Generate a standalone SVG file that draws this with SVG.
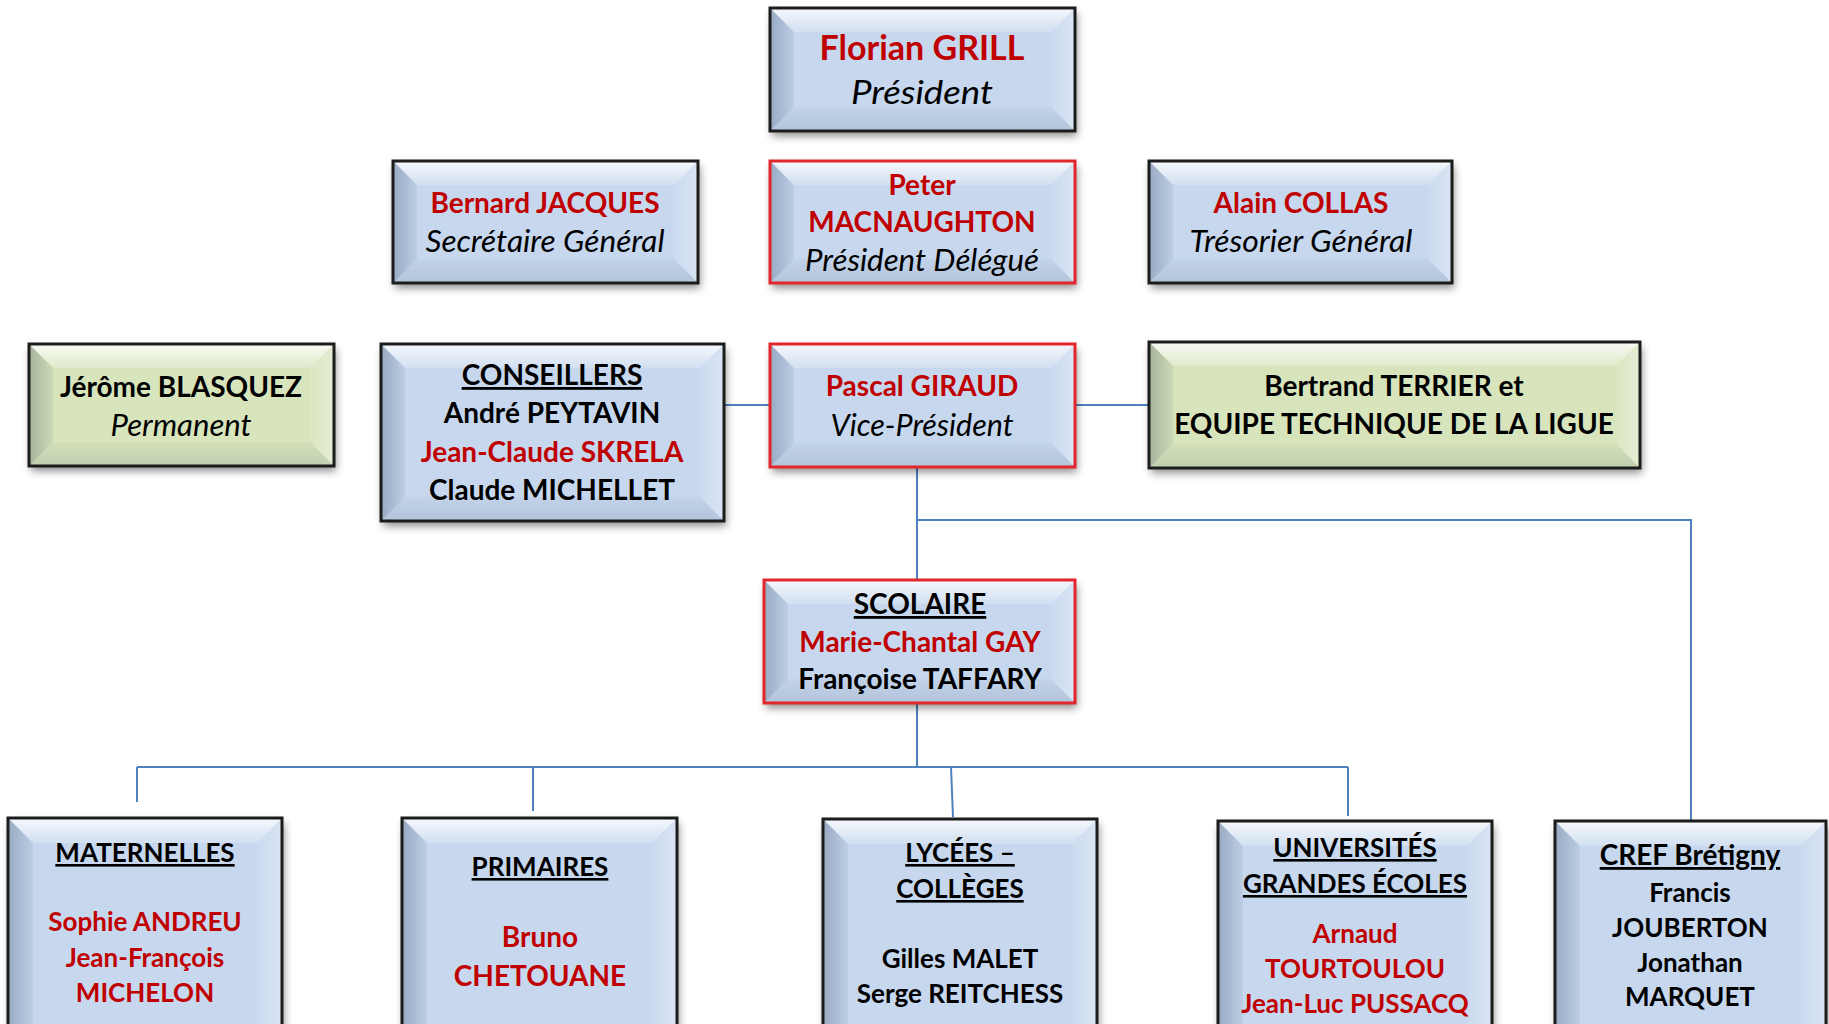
<svg xmlns="http://www.w3.org/2000/svg" width="1829" height="1024" viewBox="0 0 1829 1024">
<defs>
<linearGradient id="gTop" x1="0" y1="0" x2="0" y2="1"><stop offset="0" stop-color="#fff" stop-opacity="0.85"/><stop offset="1" stop-color="#fff" stop-opacity="0.2"/></linearGradient>
<linearGradient id="gLeft" x1="0" y1="0" x2="1" y2="0"><stop offset="0" stop-color="#23364f" stop-opacity="0.28"/><stop offset="1" stop-color="#23364f" stop-opacity="0.06"/></linearGradient>
<linearGradient id="gRight" x1="1" y1="0" x2="0" y2="0"><stop offset="0" stop-color="#fff" stop-opacity="0.35"/><stop offset="1" stop-color="#fff" stop-opacity="0.08"/></linearGradient>
<linearGradient id="gBottom" x1="0" y1="1" x2="0" y2="0"><stop offset="0" stop-color="#23364f" stop-opacity="0.12"/><stop offset="1" stop-color="#23364f" stop-opacity="0.03"/></linearGradient>
<filter id="shadow" x="-10%" y="-10%" width="130%" height="140%"><feDropShadow dx="2" dy="5" stdDeviation="4" flood-color="#000" flood-opacity="0.45"/></filter>
</defs>
<style>
.blue{fill:#c6d7ee;filter:url(#shadow)}
.green{fill:#d7e4bc;filter:url(#shadow)}
.bt{fill:url(#gTop)}
.bl{fill:url(#gLeft)}
.br{fill:url(#gRight)}
.bb{fill:url(#gBottom)}
.kb{fill:none;stroke:#1c1c1c;stroke-width:3}
.kr{fill:none;stroke:#e3262c;stroke-width:3}
text{font-family:Lato,"Open Sans","DejaVu Sans",sans-serif;text-anchor:middle}
.n{font-weight:bold;font-size:28px}
.n1{font-weight:bold;font-size:34px}
.r{font-style:italic;font-size:30px;fill:#000}
.r1{font-style:italic;font-size:32px;fill:#000}
.s{font-weight:bold;font-size:26px}
.h{font-weight:bold;font-size:28px}
.red{fill:#c00000}
.blk{fill:#000}
.u{text-decoration:underline}
#connectors path{fill:none;stroke:#4f81bd;stroke-width:2}
</style>
<rect width="1829" height="1024" fill="#fff"/>
<g id="connectors">
<path d="M724 405H770"/>
<path d="M1075 405H1149"/>
<path d="M917 467V580"/>
<path d="M917 520H1691V821"/>
<path d="M917 703V767"/>
<path d="M137 767H1348"/>
<path d="M137 767V802"/>
<path d="M533 767V811"/>
<path d="M951 767L953 817"/>
<path d="M1348 767V816"/>
</g>
<g id="florian">
<rect class="blue" x="770" y="8" width="305" height="123"/>
<polygon class="bt" points="770,8 1075,8 1051,32 794,32"/>
<polygon class="bl" points="770,8 794,32 794,107 770,131"/>
<polygon class="br" points="1075,8 1075,131 1051,107 1051,32"/>
<polygon class="bb" points="770,131 1075,131 1051,107 794,107"/>
<rect class="kb" x="770" y="8" width="305" height="123"/>
<text class="n1 red" x="922" y="60">Florian GRILL</text>
<text class="r1" x="922" y="104" textLength="142" lengthAdjust="spacingAndGlyphs">Président</text>
</g>
<g id="bernard">
<rect class="blue" x="393" y="161" width="305" height="122"/>
<polygon class="bt" points="393,161 698,161 674,185 417,185"/>
<polygon class="bl" points="393,161 417,185 417,259 393,283"/>
<polygon class="br" points="698,161 698,283 674,259 674,185"/>
<polygon class="bb" points="393,283 698,283 674,259 417,259"/>
<rect class="kb" x="393" y="161" width="305" height="122"/>
<text class="n red" x="545" y="213">Bernard JACQUES</text>
<text class="r" x="545" y="252" textLength="239" lengthAdjust="spacingAndGlyphs">Secrétaire Général</text>
</g>
<g id="peter">
<rect class="blue" x="770" y="161" width="305" height="122"/>
<polygon class="bt" points="770,161 1075,161 1051,185 794,185"/>
<polygon class="bl" points="770,161 794,185 794,259 770,283"/>
<polygon class="br" points="1075,161 1075,283 1051,259 1051,185"/>
<polygon class="bb" points="770,283 1075,283 1051,259 794,259"/>
<rect class="kr" x="770" y="161" width="305" height="122"/>
<text class="n red" x="922" y="195">Peter</text>
<text class="n red" x="922" y="232">MACNAUGHTON</text>
<text class="r" x="922" y="271" textLength="234" lengthAdjust="spacingAndGlyphs">Président Délégué</text>
</g>
<g id="alain">
<rect class="blue" x="1149" y="161" width="303" height="122"/>
<polygon class="bt" points="1149,161 1452,161 1428,185 1173,185"/>
<polygon class="bl" points="1149,161 1173,185 1173,259 1149,283"/>
<polygon class="br" points="1452,161 1452,283 1428,259 1428,185"/>
<polygon class="bb" points="1149,283 1452,283 1428,259 1173,259"/>
<rect class="kb" x="1149" y="161" width="303" height="122"/>
<text class="n red" x="1301" y="213">Alain COLLAS</text>
<text class="r" x="1301" y="252" textLength="223" lengthAdjust="spacingAndGlyphs">Trésorier Général</text>
</g>
<g id="jerome">
<rect class="green" x="29" y="344" width="305" height="122"/>
<polygon class="bt" points="29,344 334,344 310,368 53,368"/>
<polygon class="bl" points="29,344 53,368 53,442 29,466"/>
<polygon class="br" points="334,344 334,466 310,442 310,368"/>
<polygon class="bb" points="29,466 334,466 310,442 53,442"/>
<rect class="kb" x="29" y="344" width="305" height="122"/>
<text class="n blk" x="181" y="397">Jérôme BLASQUEZ</text>
<text class="r" x="181" y="436" textLength="141" lengthAdjust="spacingAndGlyphs">Permanent</text>
</g>
<g id="conseillers">
<rect class="blue" x="381" y="344" width="343" height="177"/>
<polygon class="bt" points="381,344 724,344 700,368 405,368"/>
<polygon class="bl" points="381,344 405,368 405,497 381,521"/>
<polygon class="br" points="724,344 724,521 700,497 700,368"/>
<polygon class="bb" points="381,521 724,521 700,497 405,497"/>
<rect class="kb" x="381" y="344" width="343" height="177"/>
<text class="n blk u" x="552" y="385">CONSEILLERS</text>
<text class="n blk" x="552" y="423">André PEYTAVIN</text>
<text class="n red" x="552" y="462">Jean-Claude SKRELA</text>
<text class="n blk" x="552" y="500">Claude MICHELLET</text>
</g>
<g id="pascal">
<rect class="blue" x="770" y="344" width="305" height="123"/>
<polygon class="bt" points="770,344 1075,344 1051,368 794,368"/>
<polygon class="bl" points="770,344 794,368 794,443 770,467"/>
<polygon class="br" points="1075,344 1075,467 1051,443 1051,368"/>
<polygon class="bb" points="770,467 1075,467 1051,443 794,443"/>
<rect class="kr" x="770" y="344" width="305" height="123"/>
<text class="n red" x="922" y="396">Pascal GIRAUD</text>
<text class="r" x="922" y="436" textLength="183" lengthAdjust="spacingAndGlyphs">Vice-Président</text>
</g>
<g id="bertrand">
<rect class="green" x="1149" y="342" width="491" height="126"/>
<polygon class="bt" points="1149,342 1640,342 1616,366 1173,366"/>
<polygon class="bl" points="1149,342 1173,366 1173,444 1149,468"/>
<polygon class="br" points="1640,342 1640,468 1616,444 1616,366"/>
<polygon class="bb" points="1149,468 1640,468 1616,444 1173,444"/>
<rect class="kb" x="1149" y="342" width="491" height="126"/>
<text class="n blk" x="1394" y="396">Bertrand TERRIER et</text>
<text class="n blk" x="1394" y="434">EQUIPE TECHNIQUE DE LA LIGUE</text>
</g>
<g id="scolaire">
<rect class="blue" x="764" y="580" width="311" height="123"/>
<polygon class="bt" points="764,580 1075,580 1051,604 788,604"/>
<polygon class="bl" points="764,580 788,604 788,679 764,703"/>
<polygon class="br" points="1075,580 1075,703 1051,679 1051,604"/>
<polygon class="bb" points="764,703 1075,703 1051,679 788,679"/>
<rect class="kr" x="764" y="580" width="311" height="123"/>
<text class="n blk u" x="920" y="614">SCOLAIRE</text>
<text class="n red" x="920" y="652">Marie-Chantal GAY</text>
<text class="n blk" x="920" y="689">Françoise TAFFARY</text>
</g>
<g id="maternelles">
<rect class="blue" x="8" y="818" width="274" height="240"/>
<polygon class="bt" points="8,818 282,818 257,843 33,843"/>
<polygon class="bl" points="8,818 33,843 33,1033 8,1058"/>
<polygon class="br" points="282,818 282,1058 257,1033 257,843"/>
<rect class="kb" x="8" y="818" width="274" height="240"/>
<text class="s blk u" x="145" y="862">MATERNELLES</text>
<text class="s red" x="145" y="931">Sophie ANDREU</text>
<text class="s red" x="145" y="967">Jean-François</text>
<text class="s red" x="145" y="1002">MICHELON</text>
</g>
<g id="primaires">
<rect class="blue" x="402" y="818" width="275" height="240"/>
<polygon class="bt" points="402,818 677,818 652,843 427,843"/>
<polygon class="bl" points="402,818 427,843 427,1033 402,1058"/>
<polygon class="br" points="677,818 677,1058 652,1033 652,843"/>
<rect class="kb" x="402" y="818" width="275" height="240"/>
<text class="s blk u" x="540" y="876">PRIMAIRES</text>
<text class="n red" x="540" y="947">Bruno</text>
<text class="n red" x="540" y="986">CHETOUANE</text>
</g>
<g id="lycees">
<rect class="blue" x="823" y="819" width="274" height="240"/>
<polygon class="bt" points="823,819 1097,819 1072,844 848,844"/>
<polygon class="bl" points="823,819 848,844 848,1034 823,1059"/>
<polygon class="br" points="1097,819 1097,1059 1072,1034 1072,844"/>
<rect class="kb" x="823" y="819" width="274" height="240"/>
<text class="s blk u" x="960" y="862">LYCÉES –</text>
<text class="s blk u" x="960" y="898">COLLÈGES</text>
<text class="s blk" x="960" y="968">Gilles MALET</text>
<text class="s blk" x="960" y="1003">Serge REITCHESS</text>
</g>
<g id="universites">
<rect class="blue" x="1218" y="821" width="274" height="240"/>
<polygon class="bt" points="1218,821 1492,821 1467,846 1243,846"/>
<polygon class="bl" points="1218,821 1243,846 1243,1036 1218,1061"/>
<polygon class="br" points="1492,821 1492,1061 1467,1036 1467,846"/>
<rect class="kb" x="1218" y="821" width="274" height="240"/>
<text class="s blk u" x="1355" y="857">UNIVERSITÉS</text>
<text class="s blk u" x="1355" y="893">GRANDES ÉCOLES</text>
<text class="s red" x="1355" y="943">Arnaud</text>
<text class="s red" x="1355" y="978">TOURTOULOU</text>
<text class="s red" x="1355" y="1013">Jean-Luc PUSSACQ</text>
</g>
<g id="cref">
<rect class="blue" x="1555" y="821" width="271" height="240"/>
<polygon class="bt" points="1555,821 1826,821 1801,846 1580,846"/>
<polygon class="bl" points="1555,821 1580,846 1580,1036 1555,1061"/>
<polygon class="br" points="1826,821 1826,1061 1801,1036 1801,846"/>
<rect class="kb" x="1555" y="821" width="271" height="240"/>
<text class="h blk u" x="1690" y="865">CREF Brétigny</text>
<text class="s blk" x="1690" y="902">Francis</text>
<text class="s blk" x="1690" y="937">JOUBERTON</text>
<text class="s blk" x="1690" y="972">Jonathan</text>
<text class="s blk" x="1690" y="1006">MARQUET</text>
</g>
</svg>
